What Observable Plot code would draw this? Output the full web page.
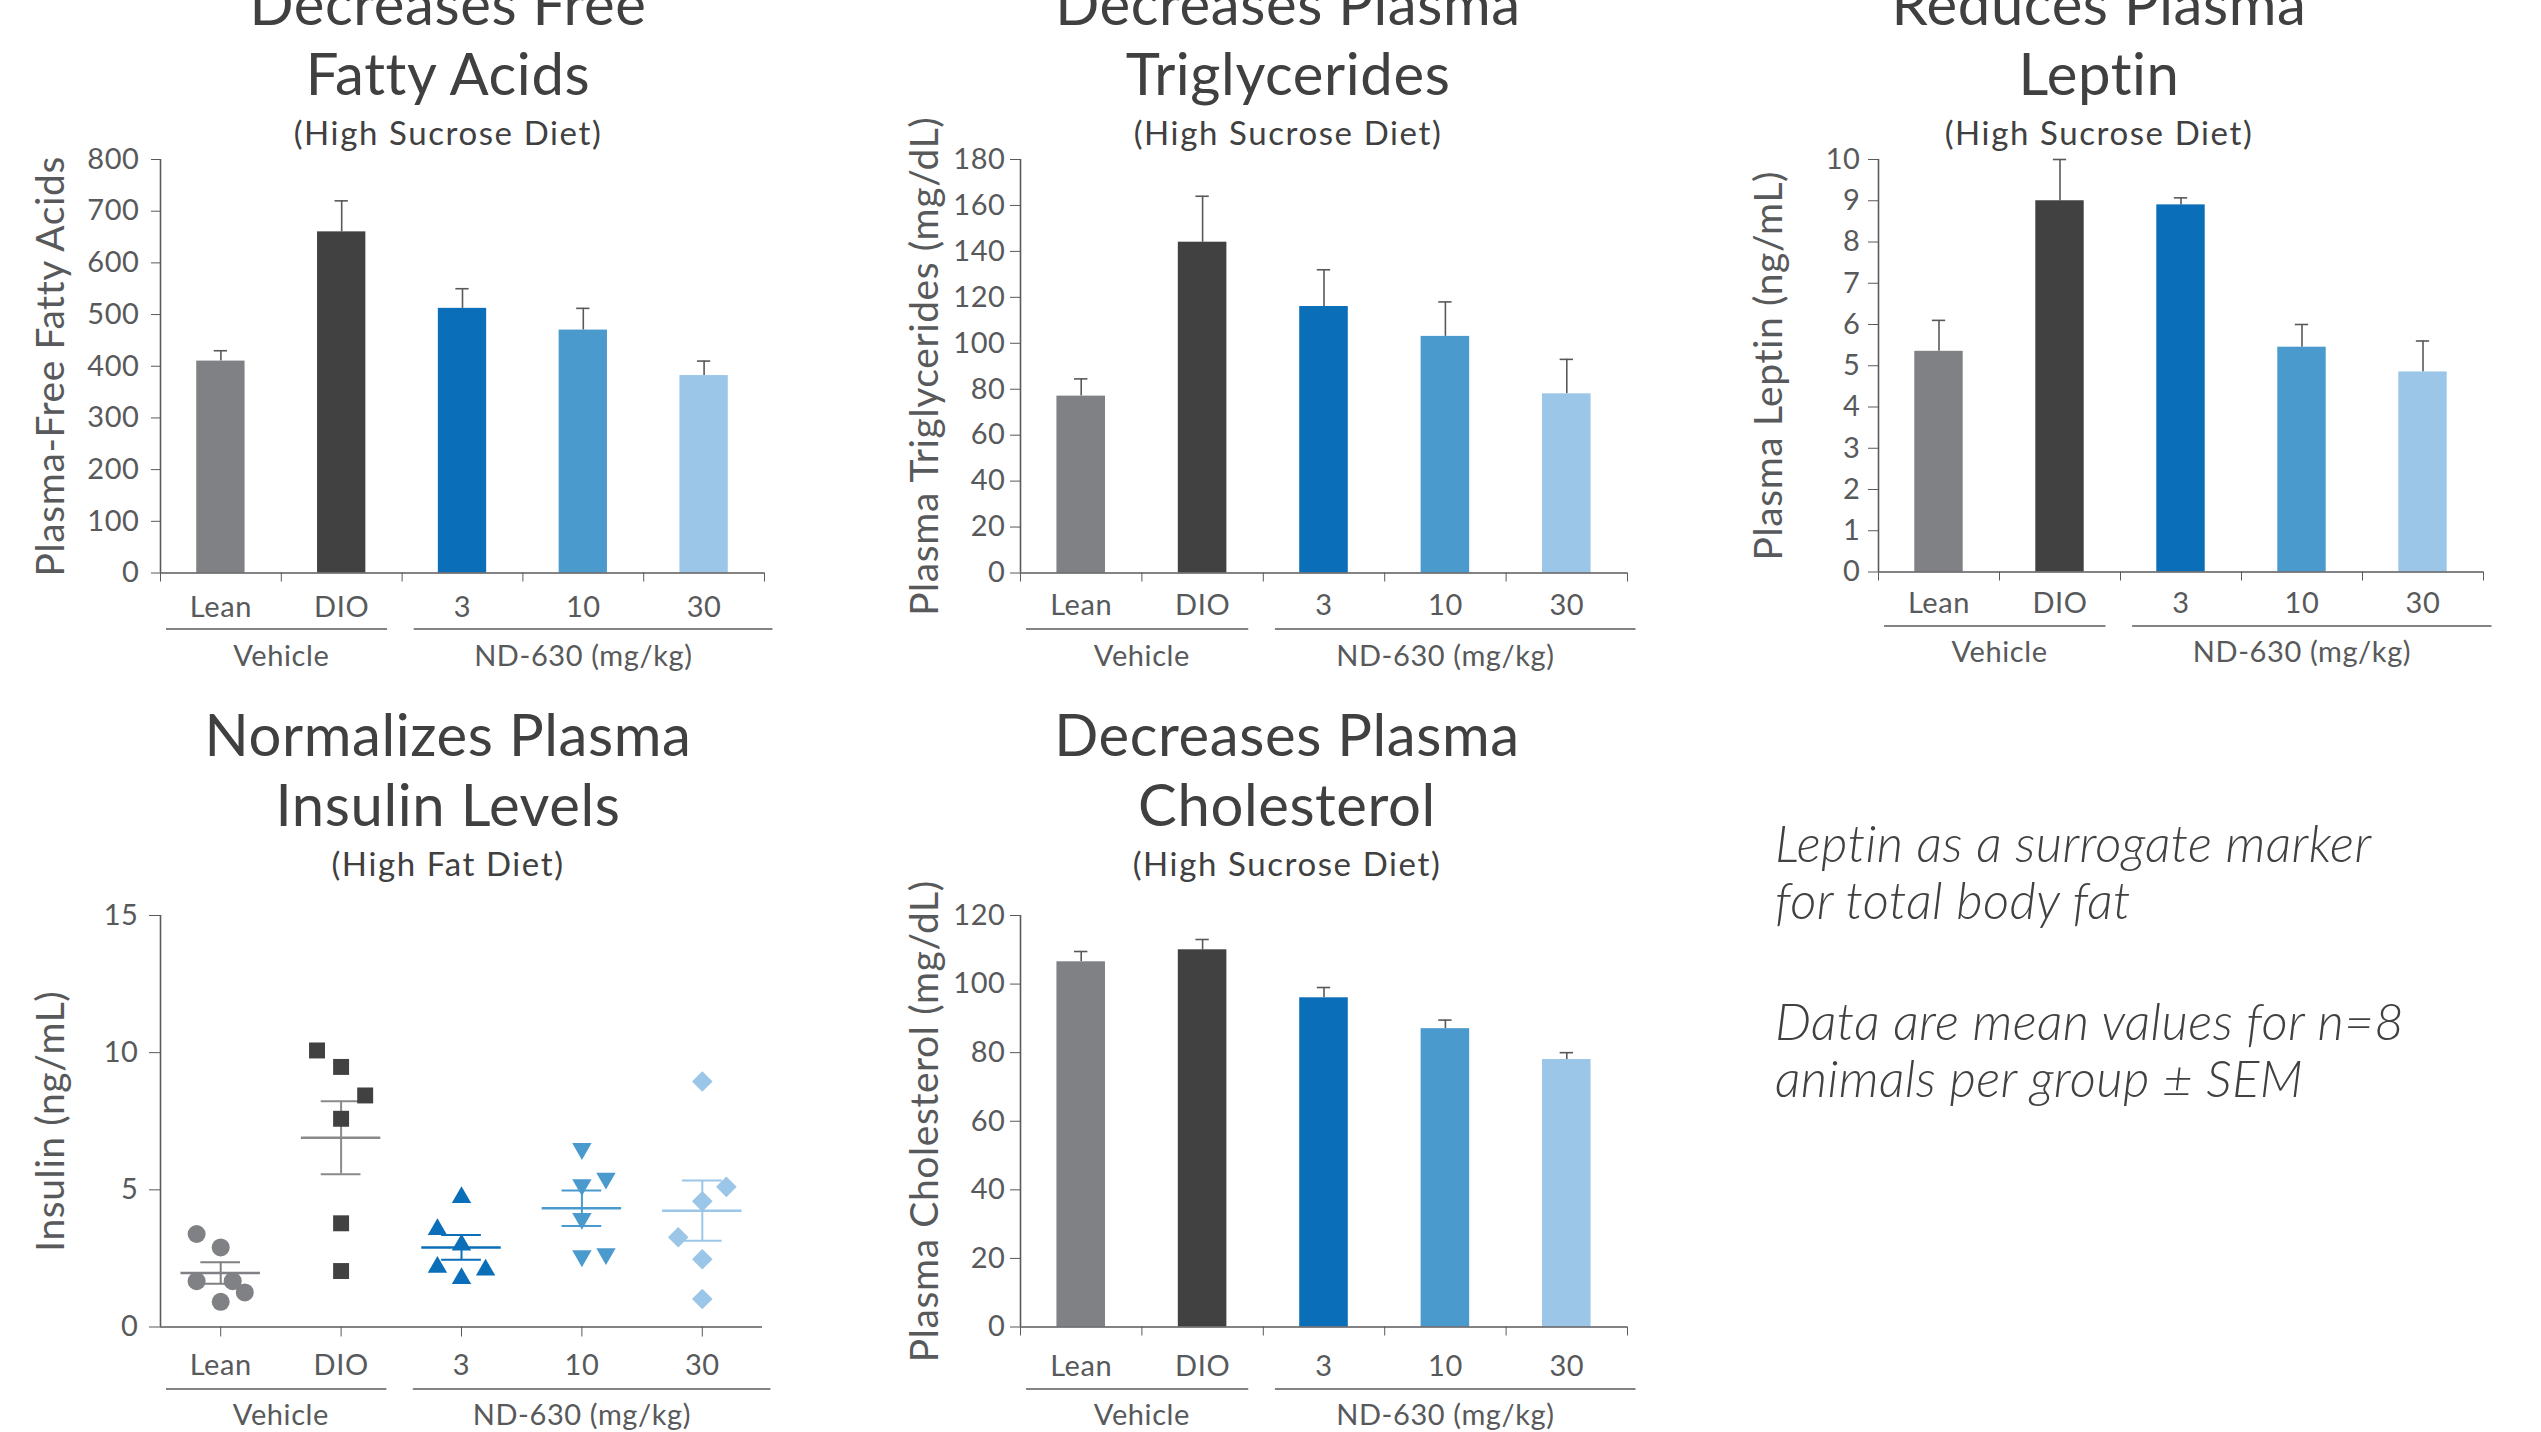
<!DOCTYPE html>
<html>
<head>
<meta charset="utf-8">
<script src="https://cdn.jsdelivr.net/npm/d3@7"></script>
<script src="https://cdn.jsdelivr.net/npm/@observablehq/plot@0.6"></script>
<style>
  html, body { margin: 0; padding: 0; background: #fff; }
  #page { position: relative; width: 2541px; height: 1432px; overflow: hidden; background: #fff;
          font-family: Lato, "Open Sans", sans-serif; color: #414042; }
  .title { position: absolute; width: 900px; text-align: center; font-size: 58px; line-height: 70px;
           color: #404041; white-space: nowrap; font-weight: 400; letter-spacing: 0.6px; }
  .sub { position: absolute; width: 900px; text-align: center; font-size: 33px; line-height: 40px;
         color: #404041; white-space: nowrap; letter-spacing: 1.6px; }
  .note { position: absolute; left: 1775px; font-style: italic; font-weight: 300; font-size: 51px;
          line-height: 57px; color: #414042; white-space: nowrap; letter-spacing: 0.4px; }
  svg { overflow: visible; }
  svg text { letter-spacing: 0.6px; }
</style>
</head>
<body>
<div id="page"></div>
<script>
// ---------------- DATA ----------------
const categories = ["Lean", "DIO", "3", "10", "30"];
const groupNames = ["Vehicle", "ND-630 (mg/kg)"];
const groupFirst = [0, 2];
const groupLast = [1, 4];

const ffaMean = [410, 660, 512, 470, 382];
const ffaSem = [20, 60, 38, 42, 28];
const ffaTicks = [0, 100, 200, 300, 400, 500, 600, 700, 800];

const tgMean = [77, 144, 116, 103, 78];
const tgSem = [7.5, 20, 16, 15, 15];
const tgTicks = [0, 20, 40, 60, 80, 100, 120, 140, 160, 180];

const leptinMean = [5.35, 9.0, 8.9, 5.45, 4.85];
const leptinSem = [0.75, 1.0, 0.17, 0.55, 0.75];
const leptinTicks = [0, 1, 2, 3, 4, 5, 6, 7, 8, 9, 10];

const cholMean = [106.5, 110, 96, 87, 78];
const cholSem = [3, 3, 3, 2.5, 2];
const cholTicks = [0, 20, 40, 60, 80, 100, 120];

// insulin individual animals (values) and their jitter slot within the column
const insulinLean = [3.39, 2.90, 1.67, 1.67, 1.26, 0.92];
const insulinLeanSlot = [-2, 0, -2, 1, 2, 0];
const insulinDIO = [10.08, 9.48, 8.44, 7.59, 3.78, 2.04];
const insulinDIOSlot = [-2, 0, 2, 0, 0, 0];
const insulin3 = [4.72, 3.56, 2.99, 2.18, 2.08, 1.77];
const insulin3Slot = [0, -2, 0, -2, 2, 0];
const insulin10 = [6.50, 5.42, 5.18, 3.95, 2.67, 2.59];
const insulin10Slot = [0, 2, 0, 0, 2, 0];
const insulin30 = [8.95, 5.11, 4.58, 3.27, 2.47, 1.02];
const insulin30Slot = [0, 2, 0, -2, 0, 0];
const insulinMean = [1.97, 6.90, 2.90, 4.33, 4.24];
const insulinSem = [0.39, 1.33, 0.45, 0.65, 1.10];
const insulinTicks = [0, 5, 10, 15];

// ---------------- STYLE ----------------
const FONT = "Lato, 'Open Sans', sans-serif";
const COLORS = ["#808184", "#414142", "#0b6eb8", "#4b9acd", "#9bc6e7"];
const MEAN_COLORS = ["#808184", "#8a8a8c", "#0b6eb8", "#4b9acd", "#9bc6e7"];
const TICK = "#58595b";
const AXIS = "#5a5a5c";
const ERR = "#58595b";
const TICK_FONT = 29;
const YLABEL_FONT = 39;
const BAR_HALF = 0.2;
const CAP_HALF = 0.055;
const MEAN_HALF = 0.33;
const SEM_HALF = 0.165;
const JITTER_STEP = 0.1;
const BRACKET_PAD_L = [0.45, 0.4];
const BRACKET_PAD_R = [0.38, 0.57];
const ML = 160, MR = 30, MT = 12, MB = 110;

const triangleDown = {
  draw(context, size) {
    const y = -Math.sqrt(size / (Math.sqrt(3) * 3));
    context.moveTo(0, -y * 2);
    context.lineTo(-Math.sqrt(3) * y, y);
    context.lineTo(Math.sqrt(3) * y, y);
    context.closePath();
  }
};
const SYMBOLS = ["circle", "square", "triangle", triangleDown, "diamond2"];
const RADII = [9, 9, 7.2, 7.2, 9.3];

const page = document.getElementById("page");
function place(el, left, top) {
  el.style.position = "absolute";
  el.style.left = left + "px";
  el.style.top = top + "px";
  page.appendChild(el);
}

const idx = categories.map((c, i) => i);
const boundaries = [-0.5, ...idx.map(i => i + 0.5)];
const groups = groupNames.map((g, k) => ({g, k, a: groupFirst[k], b: groupLast[k]}));

function commonMarks(cfg) {
  const xmin = -0.5, xmax = categories.length - 0.5;
  return [
    Plot.axisY({ticks: cfg.yTicks, tickSize: cfg.yTickSize, tickPadding: cfg.yPad, fontSize: TICK_FONT,
                label: null, color: TICK}),
    Plot.ruleX([xmin], {y1: 0, y2: cfg.yMax, stroke: AXIS, strokeWidth: 1.6}),
    Plot.ruleY([0], {x1: xmin, x2: xmax, stroke: AXIS, strokeWidth: 1.6}),
    Plot.axisX({ticks: cfg.centerTicks ? idx : [], tickSize: cfg.centerTicks ? 10 : 0,
                tickPadding: cfg.tickPad, tickFormat: i => categories[i], fontSize: TICK_FONT,
                label: null, color: TICK, stroke: AXIS}),
    ...(cfg.centerTicks ? [] : [
      Plot.axisX({ticks: boundaries, tickSize: 9, tickFormat: () => "", label: null, stroke: AXIS}),
      Plot.text(idx, {x: d => d, y: 0, text: d => categories[d], dy: cfg.tickPad, lineAnchor: "top",
                      fontSize: TICK_FONT, fill: TICK})
    ]),
    Plot.ruleY(groups, {y: 0, x1: d => d.a - BRACKET_PAD_L[d.k], x2: d => d.b + BRACKET_PAD_R[d.k],
                        dy: cfg.brk, stroke: AXIS, strokeWidth: 1.6}),
    Plot.text(groups, {x: d => (d.a + d.b) / 2, y: 0, text: "g", dy: cfg.grp, lineAnchor: "top",
                       fontSize: TICK_FONT, fill: TICK}),
    Plot.text([cfg.yLabel], {frameAnchor: "left", rotate: -90, dx: -cfg.labelOffset, lineAnchor: "top",
                             textAnchor: "middle", fontSize: YLABEL_FONT, fill: TICK})
  ];
}

function barPanel(cfg) {
  const rows = idx.map(i => ({i, v: cfg.mean[i], e: cfg.sem[i]}));
  const svg = Plot.plot({
    width: ML + cfg.frameW + MR, height: MT + cfg.frameH + MB,
    marginLeft: ML, marginRight: MR, marginTop: MT, marginBottom: MB,
    style: {fontFamily: FONT, fontSize: "28px", background: "transparent", overflow: "visible"},
    x: {domain: [-0.5, categories.length - 0.5], label: null},
    y: {domain: [0, cfg.yMax], label: null},
    color: {type: "identity"},
    marks: [
      Plot.ruleX(rows, {x: "i", y1: "v", y2: d => d.v + d.e, stroke: ERR, strokeWidth: 1.6}),
      Plot.ruleY(rows, {y: d => d.v + d.e, x1: d => d.i - CAP_HALF, x2: d => d.i + CAP_HALF,
                        stroke: ERR, strokeWidth: 1.6}),
      Plot.rect(rows, {x1: d => d.i - BAR_HALF, x2: d => d.i + BAR_HALF, y1: 0, y2: "v",
                       fill: d => COLORS[d.i]}),
      ...commonMarks(cfg)
    ]
  });
  place(svg, cfg.left - ML, cfg.top - MT);
}

function insulinPanel(cfg) {
  const values = [insulinLean, insulinDIO, insulin3, insulin10, insulin30];
  const slots = [insulinLeanSlot, insulinDIOSlot, insulin3Slot, insulin10Slot, insulin30Slot];
  const summary = idx.map(i => ({i, m: insulinMean[i], s: insulinSem[i]}));
  const svg = Plot.plot({
    width: ML + cfg.frameW + MR, height: MT + cfg.frameH + MB,
    marginLeft: ML, marginRight: MR, marginTop: MT, marginBottom: MB,
    style: {fontFamily: FONT, fontSize: "28px", background: "transparent", overflow: "visible"},
    x: {domain: [-0.5, categories.length - 0.5], label: null},
    y: {domain: [0, cfg.yMax], label: null},
    color: {type: "identity"},
    marks: [
      ...commonMarks(cfg),
      Plot.ruleX(summary, {x: "i", y1: d => d.m - d.s, y2: d => d.m + d.s,
                           stroke: d => MEAN_COLORS[d.i], strokeWidth: 2}),
      Plot.ruleY(summary, {y: d => d.m + d.s, x1: d => d.i - SEM_HALF, x2: d => d.i + SEM_HALF,
                           stroke: d => MEAN_COLORS[d.i], strokeWidth: 2}),
      Plot.ruleY(summary, {y: d => d.m - d.s, x1: d => d.i - SEM_HALF, x2: d => d.i + SEM_HALF,
                           stroke: d => MEAN_COLORS[d.i], strokeWidth: 2}),
      Plot.ruleY(summary, {y: "m", x1: d => d.i - MEAN_HALF, x2: d => d.i + MEAN_HALF,
                           stroke: d => MEAN_COLORS[d.i], strokeWidth: 2.6}),
      ...idx.map(i => Plot.dot(values[i].map((v, j) => ({i, v, slot: slots[i][j]})), {
        x: d => d.i + d.slot * JITTER_STEP, y: "v", symbol: SYMBOLS[i], r: RADII[i],
        fill: COLORS[i], stroke: "none"
      }))
    ]
  });
  place(svg, cfg.left - ML, cfg.top - MT);
}

// ---------------- TITLES ----------------
const titleData = [
  {lines: ["Decreases Free", "Fatty Acids"], sub: "(High Sucrose Diet)", cx: 448, row: 0},
  {lines: ["Decreases Plasma", "Triglycerides"], sub: "(High Sucrose Diet)", cx: 1288, row: 0},
  {lines: ["Reduces Plasma", "Leptin"], sub: "(High Sucrose Diet)", cx: 2099, row: 0},
  {lines: ["Normalizes Plasma", "Insulin Levels"], sub: "(High Fat Diet)", cx: 448, row: 1},
  {lines: ["Decreases Plasma", "Cholesterol"], sub: "(High Sucrose Diet)", cx: 1287, row: 1}
];
const titleBase = [25, 756];
const subBase = [145, 876];
for (const t of titleData) {
  const d = document.createElement("div");
  d.className = "title";
  d.innerHTML = t.lines.join("<br>");
  place(d, t.cx - 450, titleBase[t.row] - (35 + 0.387 * 58));
  const s = document.createElement("div");
  s.className = "sub";
  s.textContent = t.sub;
  place(s, t.cx - 450, subBase[t.row] - (20 + 0.387 * 33));
}

// ---------------- PANELS ----------------
barPanel({mean: ffaMean, sem: ffaSem, yMax: 800, yTicks: ffaTicks, yLabel: "Plasma-Free Fatty Acids",
  labelOffset: 124, left: 160, top: 159, frameW: 604, frameH: 413.5, yPad: 12, yTickSize: 9,
  tickPad: 23, brk: 56, grp: 72.5});
barPanel({mean: tgMean, sem: tgSem, yMax: 180, yTicks: tgTicks, yLabel: "Plasma Triglycerides (mg/dL)",
  labelOffset: 110, left: 1020, top: 159, frameW: 607, frameH: 413.5, yPad: 5, yTickSize: 10,
  tickPad: 21, brk: 56, grp: 72});
barPanel({mean: leptinMean, sem: leptinSem, yMax: 10, yTicks: leptinTicks, yLabel: "Plasma Leptin (ng/mL)",
  labelOffset: 124, left: 1878, top: 159, frameW: 605, frameH: 412.5, yPad: 8, yTickSize: 10,
  tickPad: 20, brk: 54, grp: 69.5});
insulinPanel({yMax: 15, yTicks: insulinTicks, yLabel: "Insulin (ng/mL)", centerTicks: true,
  labelOffset: 124, left: 160, top: 915, frameW: 602, frameH: 411.5, yPad: 11, yTickSize: 11,
  tickPad: 17, brk: 62, grp: 77.5});
barPanel({mean: cholMean, sem: cholSem, yMax: 120, yTicks: cholTicks, yLabel: "Plasma Cholesterol (mg/dL)",
  labelOffset: 110, left: 1020, top: 915, frameW: 607, frameH: 411.5, yPad: 5, yTickSize: 10,
  tickPad: 28, brk: 62, grp: 77.5});

// ---------------- NOTES ----------------
const notes = [
  {lines: ["Leptin as a surrogate marker", "for total body fat"], base: 862},
  {lines: ["Data are mean values for n=8", "animals per group ± SEM"], base: 1040}
];
for (const n of notes) {
  const d = document.createElement("div");
  d.className = "note";
  d.innerHTML = n.lines.join("<br>");
  place(d, 1775, n.base - (28.5 + 0.387 * 51));
}
</script>
</body>
</html>
